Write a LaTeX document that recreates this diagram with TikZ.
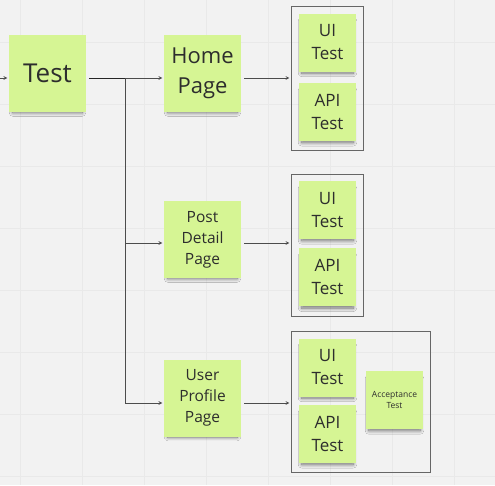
\documentclass[tikz,border=0pt]{standalone}
\usepackage{fontspec}
\setmainfont{Open Sans}
\usetikzlibrary{positioning,fit,arrows,shadows.blur}
\definecolor{sticky}{RGB}{214,245,148}
\definecolor{board}{RGB}{242,242,242}
\definecolor{gridline}{RGB}{233,233,233}
\definecolor{ink}{RGB}{45,45,45}
\newcommand{\bigtext}{\fontsize{26}{30}\selectfont}
\newcommand{\pagetext}{\fontsize{22}{30}\selectfont}
\newcommand{\midtext}{\fontsize{15.5}{21}\selectfont}
\newcommand{\uitext}{\fontsize{17}{23}\selectfont}
\newcommand{\tinytext}{\fontsize{8.5}{11.5}\selectfont}
\tikzset{
   note/.style={fill=sticky, text=ink, align=center, inner sep=0pt,
                minimum width=77pt, minimum height=77pt,
                blur shadow={shadow xshift=0pt, shadow yshift=-5pt, shadow scale=0.9,
                             shadow blur radius=4pt, shadow blur steps=12, shadow opacity=55}},
   smallnote/.style={note, minimum width=57pt, minimum height=58pt},
   groupbox/.style={draw=black!60, line width=0.8pt, inner xsep=7.5pt, inner ysep=8pt, yshift=-1.5pt},
   trunk/.style={draw=black!85, line width=1pt},
   link/.style={draw=black!70, line width=0.7pt, ->, >=stealth, shorten >=1.5pt}
}

\begin{document}
\begin{tikzpicture}[x=1pt,y=-1pt]
\useasboundingbox (0,0) rectangle (495,485);
% board
\fill[board] (0,0) rectangle (495,485);
\foreach \gx in {20,82,...,454} \draw[gridline, line width=1pt] (\gx,0) -- (\gx,485);
\foreach \gy in {42,104,...,476} \draw[gridline, line width=1pt] (0,\gy) -- (495,\gy);

% pages
\node[note, font=\bigtext] (test) at (47.5,73.5) {Test};
\node[note, font=\pagetext] (home) at (202.5,73.5) {Home\\Page};
\node[note, font=\midtext] (post) at (202.5,239.5) {Post\\Detail\\Page};
\node[note, font=\midtext] (user) at (202.5,398) {User\\Profile\\Page};

% tests
\node[smallnote, font=\uitext] (ui1) at (327.5,42.5) {UI\\Test};
\node[smallnote, font=\uitext, below=11pt of ui1] (api1) {API\\Test};
\node[smallnote, font=\uitext] (ui2) at (327.5,210) {UI\\Test};
\node[smallnote, font=\uitext, below=9pt of ui2] (api2) {API\\Test};
\node[smallnote, font=\uitext] (ui3) at (327.5,367.5) {UI\\Test};
\node[smallnote, font=\uitext, below=8pt of ui3] (api3) {API\\Test};
\node[smallnote, font=\tinytext] (accept) at (394.5,400) {Acceptance\\Test};

\node[groupbox, fit=(ui1)(api1)] (grp1) {};
\node[groupbox, fit=(ui2)(api2)] (grp2) {};
\node[groupbox, fit=(ui3)(api3)(accept)] (grp3) {};

% connectors
\coordinate (entry) at (0,78);
\draw[link] (entry) -- (entry -| test.west);
\coordinate (testout) at ([xshift=3pt,yshift=-4.5pt]test.east);
\coordinate[right=36pt of testout] (jn);
\draw[trunk] (testout) -- (jn);
\draw[link] (jn) -- (jn -| home.west);
\draw[link] (jn) |- ([yshift=-3.5pt]post.west);
\draw[link] (jn) |- ([yshift=-5pt]user.west);

\coordinate (homeout) at ([xshift=3pt,yshift=-4.5pt]home.east);
\coordinate (postout) at ([xshift=3pt,yshift=-3.5pt]post.east);
\coordinate (userout) at ([xshift=3pt,yshift=-5pt]user.east);
\draw[link] (homeout) -- (homeout -| grp1.west);
\draw[link] (postout) -- (postout -| grp2.west);
\draw[link] (userout) -- (userout -| grp3.west);
\end{tikzpicture}
\end{document}
